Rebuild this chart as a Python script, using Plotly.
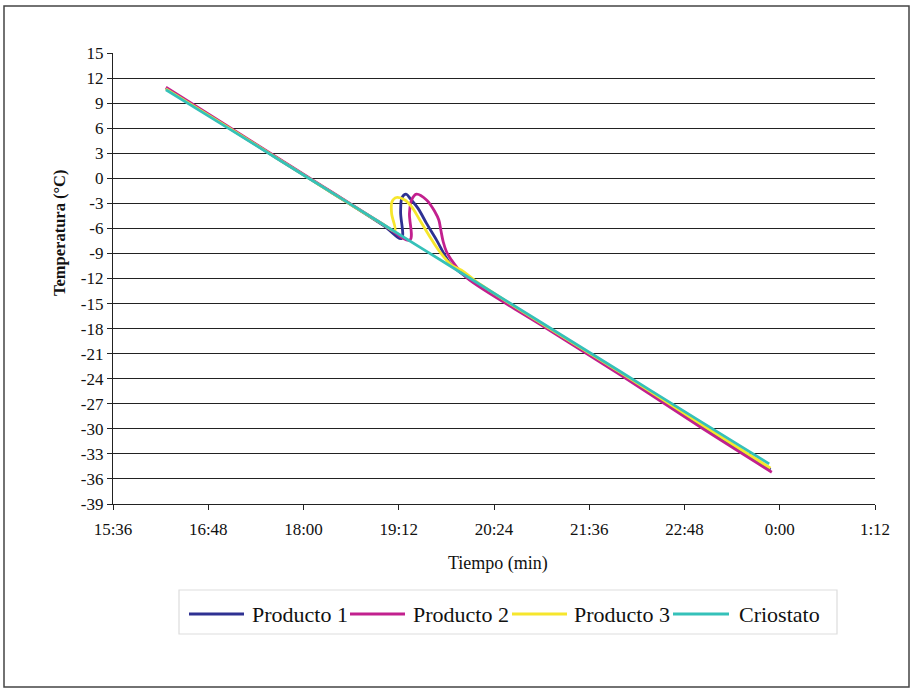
from datetime import datetime

import plotly.graph_objects as go

# ---- data -------------------------------------------------------------
x_tick_labels = ["15:36", "16:48", "18:00", "19:12", "20:24", "21:36", "22:48", "0:00", "1:12"]
y_tick_values = [15, 12, 9, 6, 3, 0, -3, -6, -9, -12, -15, -18, -21, -24, -27, -30, -33, -36, -39]

crio_t = ["16:16", "17:00", "18:00", "19:00", "20:00", "21:00", "22:00", "23:00", "23:52"]
crio_v = [10.6, 6.3, 0.4, -5.5, -11.4, -17.3, -23.2, -29.1, -34.2]

p1_t = ["16:16", "17:00", "18:00", "19:00", "19:14:06", "19:13:24", "19:14:30", "19:17:30",
        "19:21:00", "19:26:36", "19:33:00", "19:40:36", "19:46:48", "19:51:54", "20:02:00",
        "21:00", "22:00", "23:00", "23:53"]
p1_v = [10.8, 6.4, 0.4, -5.6, -7.2, -4.0, -2.3, -1.9, -2.5, -3.6, -5.4, -7.4, -9.2, -10.4, -11.7,
        -17.5, -23.5, -29.6, -34.9]

p2_t = ["16:16", "17:00", "18:00", "19:00", "19:20:24", "19:20:06", "19:21:42", "19:25:24",
        "19:33:00", "19:39:18", "19:42:18", "19:43:48", "19:45:36", "19:48:06", "19:51:54",
        "19:55:42", "20:04:00", "21:00", "22:00", "23:00", "23:54"]
p2_v = [10.9, 6.5, 0.5, -5.5, -7.4, -4.2, -2.6, -1.9, -2.6, -4.0, -5.0, -6.2, -7.6, -8.8, -9.8,
        -10.6, -12.0, -17.6, -23.6, -29.8, -35.2]

p3_t = ["16:16", "17:00", "18:00", "19:00", "19:09:06", "19:06:36", "19:06:54", "19:10:18",
        "19:16:36", "19:21:42", "19:27:54", "19:35:30", "19:43:00", "19:51:54", "19:59:24",
        "20:11:00", "21:00", "22:00", "23:00", "23:53"]
p3_v = [10.7, 6.4, 0.4, -5.5, -6.3, -4.2, -2.8, -2.3, -2.6, -3.4, -5.0, -7.0, -8.8, -10.4, -11.0,
        -12.4, -17.4, -23.3, -29.4, -34.7]

series = [
    ("Producto 1", p1_t, p1_v, "#2E3192"),
    ("Producto 2", p2_t, p2_v, "#C2208E"),
    ("Producto 3", p3_t, p3_v, "#F6E62C"),
    ("Criostato", crio_t, crio_v, "#35C1B9"),
]


def clock(t):
    """Clock string -> datetime; early-morning hours belong to the next day."""
    parts = [int(p) for p in t.split(":")]
    while len(parts) < 3:
        parts.append(0)
    h, m, s = parts
    day = 1 if h >= 12 else 2
    return datetime(2000, 1, day, h, m, s)


# ---- figure geometry (pixels) ----------------------------------------
W, H = 914, 690
L, R, T, B = 113, 875, 53, 504


def px(x):
    return (x - L) / (R - L)


def py(y):
    return (B - y) / (B - T)


FONT = "Liberation Serif, Times New Roman, serif"

fig = go.Figure()
for name, ts, vs, color in series:
    fig.add_trace(go.Scatter(
        x=[clock(t) for t in ts], y=vs, name=name, mode="lines",
        line=dict(color=color, width=2.8, shape="spline", smoothing=1.0),
        showlegend=False,
    ))

fig.update_layout(
    width=W, height=H,
    margin=dict(l=L, r=W - R, t=T, b=H - B),
    paper_bgcolor="white", plot_bgcolor="white",
    font=dict(family=FONT, color="#111"),
)

fig.update_xaxes(
    range=[clock(x_tick_labels[0]), clock(x_tick_labels[-1])],
    tickvals=[clock(t) for t in x_tick_labels], ticktext=x_tick_labels,
    showgrid=False, zeroline=False,
    showline=True, linecolor="#222", linewidth=1.3,
    ticks="outside", ticklen=5, tickwidth=1.3, tickcolor="#222",
    ticklabelstandoff=4,
    tickfont=dict(family=FONT, size=17, color="#111"),
)
fig.update_yaxes(
    range=[-39, 15],
    tickvals=y_tick_values, ticktext=[str(v) for v in y_tick_values],
    showgrid=True, gridcolor="#222", gridwidth=1.4, zeroline=False,
    showline=True, linecolor="#222", linewidth=1.3,
    ticks="outside", ticklen=5, tickwidth=1.3, tickcolor="#222",
    tickfont=dict(family=FONT, size=17, color="#111"),
)

annotations = [
    dict(text="<b>Temperatura (°C)</b>", x=px(60), y=py(232), xref="paper", yref="paper",
         xanchor="center", yanchor="middle",
         textangle=-90, showarrow=False, font=dict(family=FONT, size=16.5, color="#111")),
    dict(text="Tiempo (min)", x=px(498), y=py(563), xref="paper", yref="paper",
         xanchor="center", yanchor="middle",
         showarrow=False, font=dict(family=FONT, size=18, color="#111")),
]

shapes = [
    # frame around the whole chart
    dict(type="rect", xref="paper", yref="paper", x0=px(4), x1=px(909), y0=py(687), y1=py(6),
         line=dict(color="#444", width=1.5), layer="below"),
    # legend box
    dict(type="rect", xref="paper", yref="paper", x0=px(179), x1=px(837), y0=py(634), y1=py(590),
         line=dict(color="#dddddd", width=1.2), fillcolor="white"),
]

# legend entries: sample line + label
legend_layout = [(189, 244, 250), (350, 405, 411), (512, 567, 572), (673, 729, 737)]
for (name, _, _, color), (lx0, lx1, tx) in zip(series, legend_layout):
    shapes.append(dict(type="line", xref="paper", yref="paper", x0=px(lx0), x1=px(lx1),
                       y0=py(614), y1=py(614), line=dict(color=color, width=2.8)))
    annotations.append(dict(text=name, x=px(tx), y=py(614), xref="paper", yref="paper",
                            xanchor="left", yanchor="middle", showarrow=False,
                            font=dict(family=FONT, size=22, color="#111")))

fig.update_layout(shapes=shapes, annotations=annotations)

fig.write_html("out.html")
